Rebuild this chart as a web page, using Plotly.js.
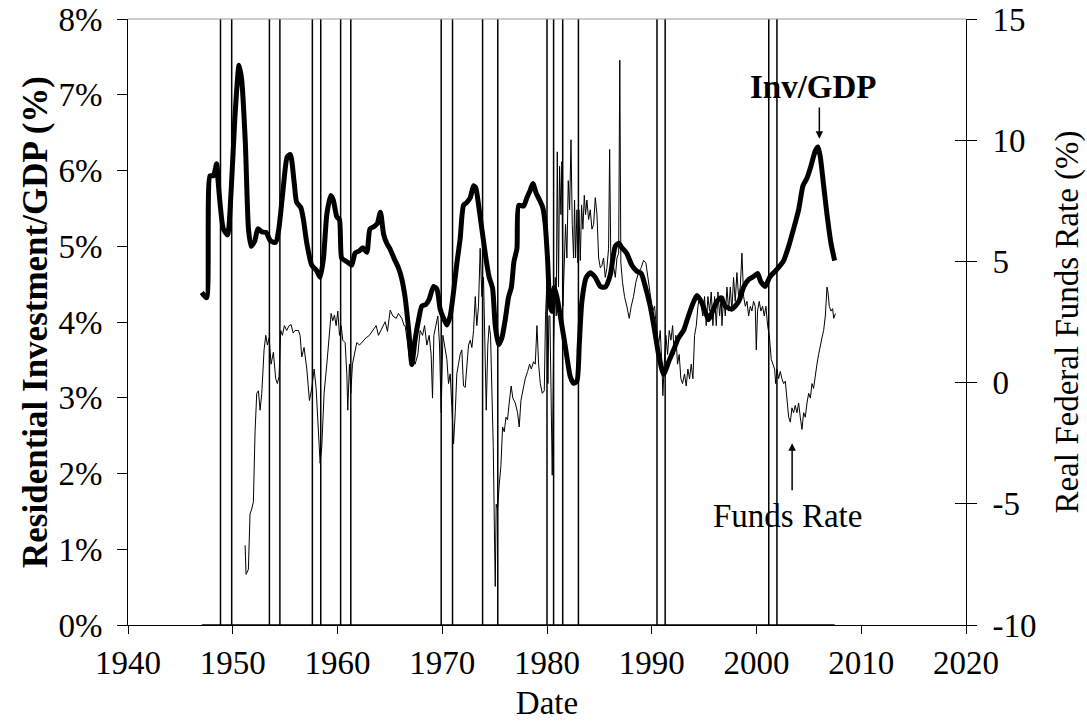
<!DOCTYPE html>
<html>
<head>
<meta charset="utf-8">
<script src="https://cdn.plot.ly/plotly-3.0.1.min.js"></script>
<style>html,body{margin:0;padding:0;background:#fff}#chart{width:1087px;height:721px}</style>
</head>
<body>
<div id="chart"></div>
<script>
// Residential investment / GDP (%), quarterly-ish readings
const invYears = [1947.04,1947.5,1947.83,1948.15,1948.47,1948.6,1949.1,1949.5,1949.85,1950.2,1950.6,1950.85,1951.2,1951.5,1951.75,1952.1,1952.4,1952.8,1953.2,1953.6,1954.1,1954.4,1954.8,1955.2,1955.5,1955.85,1956.1,1956.5,1956.75,1957.07,1957.54,1958.0,1958.34,1958.66,1958.98,1959.36,1959.6,1959.93,1960.19,1960.4,1960.73,1961.05,1961.36,1961.68,1962.1,1962.4,1962.8,1963.1,1963.5,1963.8,1964.1,1964.4,1964.7,1965.0,1965.4,1965.8,1966.1,1966.45,1966.8,1967.1,1967.4,1967.73,1968.05,1968.43,1968.75,1969.17,1969.5,1969.8,1970.12,1970.44,1970.76,1971.08,1971.4,1971.71,1972.03,1972.35,1972.67,1972.99,1973.2,1973.53,1973.85,1974.17,1974.48,1974.8,1975.06,1975.37,1975.69,1976.0,1976.33,1976.6,1976.85,1977.13,1977.3,1977.76,1978.08,1978.4,1978.65,1978.97,1979.29,1979.6,1979.83,1980.05,1980.3,1980.5,1980.69,1980.95,1981.27,1981.58,1981.9,1982.22,1982.54,1982.86,1983.08,1983.33,1983.75,1984.13,1984.6,1985.09,1985.56,1986.04,1986.52,1986.84,1987.15,1987.6,1988.1,1988.58,1989.0,1989.4,1989.85,1990.27,1990.65,1991.13,1991.6,1992.08,1992.56,1993.04,1993.36,1993.83,1994.31,1994.72,1995.1,1995.42,1995.8,1996.22,1996.63,1997.0,1997.65,1998.3,1998.77,1999.25,1999.72,2000.1,2000.42,2000.84,2001.25,2001.63,2002.11,2002.59,2003.07,2003.54,2004.02,2004.44,2004.82,2005.2,2005.61,2005.87,2006.09,2006.41,2006.73,2007.11,2007.46];
const invValues = [4.39,4.32,5.93,5.93,6.09,5.86,5.23,5.15,5.74,6.69,7.39,7.2,6.37,5.23,5.0,5.07,5.23,5.19,5.18,5.07,5.05,5.23,5.74,6.18,6.21,5.86,5.58,5.51,5.35,5.04,4.75,4.68,4.59,4.84,5.42,5.67,5.61,5.39,5.35,4.84,4.81,4.78,4.75,4.91,4.94,4.98,4.92,5.23,5.26,5.30,5.45,5.16,5.04,4.97,4.84,4.72,4.59,4.33,3.89,3.44,3.76,4.02,4.21,4.23,4.30,4.47,4.43,4.17,4.05,3.96,4.08,4.40,4.78,5.10,5.54,5.58,5.64,5.80,5.77,5.48,5.16,4.84,4.59,4.45,3.95,3.70,3.79,4.02,4.33,4.46,4.80,4.97,5.54,5.53,5.64,5.74,5.83,5.70,5.61,5.51,5.29,4.84,4.21,4.14,4.46,4.33,4.08,3.82,3.54,3.28,3.19,3.22,3.70,4.27,4.59,4.65,4.59,4.47,4.46,4.62,5.0,5.04,4.98,4.91,4.75,4.67,4.64,4.46,4.21,3.89,3.57,3.31,3.47,3.63,3.79,3.89,4.02,4.21,4.35,4.27,4.14,4.03,4.14,4.27,4.32,4.21,4.17,4.27,4.46,4.56,4.60,4.64,4.53,4.47,4.59,4.65,4.72,4.81,5.0,5.23,5.48,5.80,5.90,6.06,6.26,6.31,6.18,5.80,5.42,5.04,4.81];

// Real federal funds rate (%), right axis
const fundsYears = [1951.18,1951.27,1951.49,1951.65,1951.81,1951.97,1952.13,1952.29,1952.45,1952.61,1952.77,1952.99,1953.15,1953.31,1953.47,1953.66,1953.88,1954.1,1954.26,1954.42,1954.58,1954.74,1954.93,1955.15,1955.38,1955.57,1955.76,1955.95,1956.27,1956.43,1956.59,1956.81,1957.07,1957.32,1957.54,1957.77,1957.96,1958.18,1958.34,1958.5,1958.72,1958.98,1959.23,1959.39,1959.55,1959.71,1959.87,1960.03,1960.19,1960.35,1960.5,1960.73,1960.89,1960.98,1961.14,1961.27,1961.43,1961.62,1961.84,1962.1,1962.42,1962.73,1963.05,1963.37,1963.69,1963.91,1964.23,1964.55,1964.77,1965.03,1965.28,1965.6,1965.82,1966.14,1966.36,1966.46,1966.71,1966.94,1967.16,1967.41,1967.67,1967.89,1968.12,1968.31,1968.53,1968.75,1968.94,1969.07,1969.2,1969.39,1969.58,1969.74,1969.9,1970.06,1970.22,1970.44,1970.6,1970.76,1970.92,1971.08,1971.24,1971.39,1971.55,1971.71,1971.87,1972.03,1972.19,1972.35,1972.51,1972.67,1972.83,1972.99,1973.15,1973.3,1973.46,1973.62,1973.78,1973.94,1974.1,1974.2,1974.35,1974.48,1974.61,1974.74,1974.87,1974.99,1975.06,1975.15,1975.28,1975.44,1975.6,1975.76,1975.92,1976.08,1976.23,1976.39,1976.58,1976.74,1976.97,1977.19,1977.35,1977.51,1977.7,1977.92,1978.15,1978.34,1978.5,1978.72,1978.88,1979.04,1979.2,1979.36,1979.55,1979.74,1979.86,1979.99,1980.09,1980.18,1980.28,1980.37,1980.5,1980.63,1980.79,1980.88,1980.98,1981.1,1981.2,1981.33,1981.42,1981.52,1981.65,1981.77,1981.9,1982.03,1982.16,1982.29,1982.41,1982.54,1982.63,1982.73,1982.86,1982.95,1983.05,1983.18,1983.3,1983.43,1983.56,1983.68,1983.81,1983.97,1984.13,1984.29,1984.45,1984.61,1984.77,1984.93,1985.09,1985.25,1985.4,1985.56,1985.72,1985.88,1985.98,1986.1,1986.23,1986.36,1986.52,1986.68,1986.84,1986.95,1987.05,1987.21,1987.4,1987.62,1987.85,1988.04,1988.26,1988.48,1988.74,1988.99,1989.22,1989.44,1989.63,1989.85,1990.08,1990.27,1990.46,1990.65,1990.81,1990.97,1991.06,1991.19,1991.35,1991.51,1991.67,1991.83,1991.99,1992.15,1992.3,1992.46,1992.62,1992.78,1992.94,1993.13,1993.29,1993.45,1993.61,1993.77,1993.93,1994.09,1994.25,1994.41,1994.56,1994.72,1994.88,1995.04,1995.2,1995.36,1995.52,1995.68,1995.84,1996.0,1996.16,1996.32,1996.48,1996.63,1996.7,1996.86,1997.02,1997.18,1997.34,1997.5,1997.65,1997.81,1997.97,1998.13,1998.29,1998.45,1998.61,1998.77,1998.93,1999.09,1999.25,1999.41,1999.56,1999.72,1999.88,1999.98,2000.1,2000.26,2000.42,2000.58,2000.74,2000.9,2001.06,2001.22,2001.32,2001.41,2001.57,2001.73,2001.83,2001.95,2002.11,2002.27,2002.43,2002.59,2002.75,2002.91,2003.07,2003.23,2003.38,2003.54,2003.7,2003.86,2004.02,2004.18,2004.34,2004.5,2004.66,2004.82,2004.98,2005.14,2005.3,2005.45,2005.61,2005.77,2005.93,2006.09,2006.25,2006.41,2006.57,2006.73,2006.82,2006.95,2007.11,2007.27,2007.37,2007.53];
const fundsValues = [-6.71,-7.91,-7.71,-5.42,-5.22,-4.92,-2.03,-0.44,-0.34,-1.14,-0.44,1.35,1.95,1.55,1.85,0.76,1.25,0.16,-0.04,0.26,2.15,1.95,2.35,2.15,2.35,2.39,2.05,2.15,2.15,1.95,1.06,1.45,0.56,-0.74,-0.24,0.56,-0.24,-2.03,-3.33,-2.63,-0.44,0.76,1.95,2.85,2.55,2.79,2.35,2.95,1.95,2.35,1.75,1.65,0.36,-1.14,0.76,-0.44,0.76,1.16,1.65,1.55,1.71,1.85,1.95,2.15,2.35,1.95,2.25,2.51,2.11,2.99,2.75,2.65,2.85,2.65,2.35,2.35,1.55,0.76,1.16,0.76,1.16,2.15,1.95,2.35,1.55,1.95,1.16,-0.64,1.95,2.35,2.75,1.55,-1.24,1.95,1.55,0.96,-0.04,0.36,-1.04,-2.53,-1.24,0.36,0.76,1.16,1.35,-0.14,-0.2,0.76,1.55,1.75,1.45,2.15,3.55,2.35,3.15,5.54,3.55,4.34,0.76,-1.14,1.55,2.35,1.95,-0.44,-2.63,-6.41,-8.41,-5.02,-5.22,-4.22,-3.43,-1.83,-2.03,-1.43,-1.53,-0.84,-0.14,-0.64,-0.84,-1.24,-1.83,-0.74,-0.24,0.16,0.46,0.76,0.56,0.86,0.76,2.35,0.76,-0.04,-0.44,-0.34,2.75,4.14,-0.04,2.75,2.75,-0.44,-3.82,1.55,4.34,2.75,9.52,3.94,8.92,6.93,9.12,3.15,4.94,6.53,5.14,8.33,7.13,10.02,6.53,5.14,7.53,5.14,7.13,4.94,7.13,5.04,7.33,6.33,7.73,6.93,7.53,6.73,7.13,6.33,6.53,7.63,6.93,5.14,4.74,4.84,5.14,4.34,4.74,5.54,9.62,4.74,5.14,4.74,4.34,5.14,5.34,13.3,4.94,4.14,3.55,3.15,2.65,3.15,3.55,4.14,4.54,4.74,5.04,4.94,4.34,3.55,2.95,3.15,2.15,1.55,2.15,0.76,-0.54,0.76,1.95,1.16,2.15,1.75,2.35,1.16,1.95,0.76,1.16,0.16,-0.04,0.36,-0.14,0.56,0.16,0.76,0.16,1.95,2.35,3.15,3.55,3.15,2.75,3.55,2.35,3.55,2.95,3.74,2.35,3.55,2.35,3.74,2.75,3.55,2.35,3.55,2.75,3.94,2.95,3.94,2.95,4.34,3.35,4.54,3.55,3.94,5.34,3.55,3.15,3.35,2.75,3.15,2.95,3.35,3.15,1.35,2.95,3.35,2.95,3.15,2.75,3.15,2.35,1.95,1.16,0.96,0.76,0.56,-0.04,0.56,0.16,0.46,0.16,-0.04,0.06,-0.84,-1.43,-1.63,-1.04,-1.24,-0.94,-1.24,-0.84,-1.43,-1.93,-1.24,-1.43,-0.84,-0.44,-0.64,-0.04,-0.24,0.36,0.76,1.16,1.55,1.85,2.15,2.75,3.94,3.74,3.15,2.95,3.05,2.65,2.85];

// Recession start / end dates (vertical lines)
const recessionStart = [1948.83,1953.5,1957.6,1960.3,1969.9,1973.85,1980.0,1981.5,1990.5,2001.17];
const recessionEnd   = [1949.9,1954.5,1958.4,1961.27,1970.98,1975.3,1980.63,1983.0,1991.28,2001.95];
const recessionBase = [1947.04, 2007.46];

// Axis ticks
const xTicks = [1940,1950,1960,1970,1980,1990,2000,2010,2020];
const leftTickVals = [0,1,2,3,4,5,6,7,8];
const leftTickText = ['0%','1%','2%','3%','4%','5%','6%','7%','8%'];
const rightTickVals = [-10,-5,0,5,10,15];
const rightTickText = ['-10','-5','0','5','10','15'];

// build recession marker series: baseline at 0 with a vertical line at each date
const recDates = recessionStart.concat(recessionEnd).sort((a,b)=>a-b);
const recX = [recessionBase[0]], recY = [0];
recDates.forEach(d => { recX.push(d, d, d); recY.push(0, 8, 0); });
recX.push(recessionBase[1]); recY.push(0);

const FONT = 'Liberation Serif, Times New Roman, serif';
const FS = 33;

const traces = [
  {x: recX, y: recY, type: 'scatter', mode: 'lines', line: {color: '#000', width: 1.5}, hoverinfo: 'skip', showlegend: false},
  {x: fundsYears, y: fundsValues, yaxis: 'y2', type: 'scatter', mode: 'lines', line: {color: '#000', width: 1}, showlegend: false},
  {x: invYears, y: invValues, type: 'scatter', mode: 'lines', line: {color: '#000', width: 5, shape: 'spline', smoothing: 0.6}, showlegend: false},
  {x: [1940], y: [0], yaxis: 'y3', type: 'scatter', mode: 'markers', marker: {opacity: 0}, hoverinfo: 'skip', showlegend: false}
];

const layout = {
  width: 1087, height: 721,
  margin: {l: 128, r: 121, t: 19, b: 96},
  paper_bgcolor: '#fff', plot_bgcolor: '#fff',
  font: {family: FONT, size: FS, color: '#000'},
  showlegend: false,
  xaxis: {
    range: [1940, 2020], tickmode: 'array', tickvals: xTicks, ticktext: xTicks.map(String),
    ticks: 'outside', ticklen: 8, tickwidth: 1, tickcolor: '#000',
    showline: true, linecolor: '#000', linewidth: 1, showgrid: false, zeroline: false,
    tickfont: {family: FONT, size: FS},
    title: {text: 'Date', font: {family: FONT, size: FS}, standoff: 13}
  },
  yaxis: {
    range: [0, 8], tickmode: 'array', tickvals: leftTickVals, ticktext: leftTickText,
    ticks: 'outside', ticklen: 10, tickwidth: 1, tickcolor: '#000', ticklabelstandoff: 8,
    showline: true, linecolor: '#000', linewidth: 1, showgrid: false, zeroline: false,
    tickfont: {family: FONT, size: FS},
    title: {text: '<b>Residential Investment/GDP (%)</b>', font: {family: FONT, size: 35}, standoff: 0}
  },
  yaxis2: {
    range: [-10, 15], overlaying: 'y', side: 'right', anchor: 'x',
    tickmode: 'array', tickvals: rightTickVals, ticktext: rightTickText,
    ticks: 'outside', ticklen: 10, tickwidth: 1, tickcolor: '#000', ticklabelstandoff: 9,
    showline: true, linecolor: '#000', linewidth: 1, showgrid: false, zeroline: false,
    tickfont: {family: FONT, size: FS},
    title: {text: 'Real Federal Funds Rate (%)', font: {family: FONT, size: FS}, standoff: 19}
  },
  yaxis3: {
    range: [-10, 15], overlaying: 'y', side: 'right', anchor: 'x',
    tickmode: 'array', tickvals: rightTickVals, showticklabels: false,
    ticks: 'inside', ticklen: 11, tickwidth: 1, tickcolor: '#000',
    showline: false, showgrid: false, zeroline: false
  },
  shapes: [
    {type: 'line', xref: 'paper', yref: 'paper', x0: 0, x1: 1, y0: 1, y1: 1, line: {color: '#9a9a9a', width: 1}}
  ],
  annotations: [
    {xref: 'x', yref: 'y', x: 2005.4, y: 7.1, text: '<b>Inv/GDP</b>', showarrow: false, font: {family: FONT, size: FS}},
    {xref: 'x', yref: 'y', x: 2006.0, y: 6.42, axref: 'x', ayref: 'y', ax: 2006.0, ay: 6.85, text: '', showarrow: true, arrowhead: 2, arrowsize: 1, arrowwidth: 1.5, arrowcolor: '#000'},
    {xref: 'x', yref: 'y2', x: 2003.0, y: -5.5, text: 'Funds Rate', showarrow: false, font: {family: FONT, size: FS}},
    {xref: 'x', yref: 'y2', x: 2003.4, y: -2.5, axref: 'x', ayref: 'y2', ax: 2003.4, ay: -4.5, text: '', showarrow: true, arrowhead: 2, arrowsize: 1, arrowwidth: 1.5, arrowcolor: '#000'}
  ]
};

Plotly.newPlot('chart', traces, layout, {displayModeBar: false, staticPlot: true});
</script>
</body>
</html>
